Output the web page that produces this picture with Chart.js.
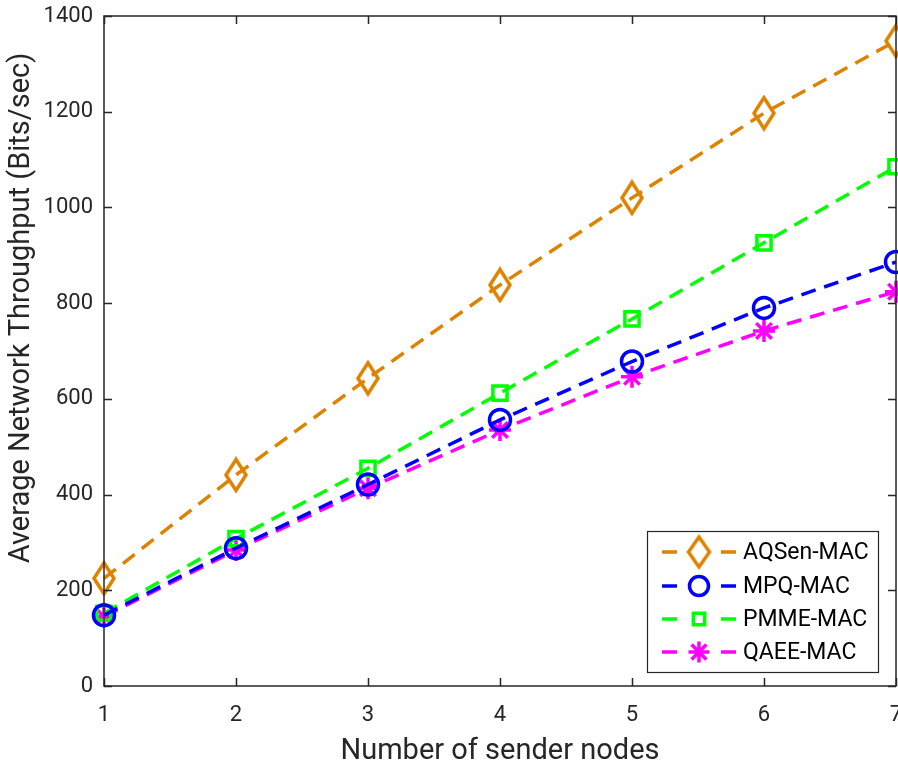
<!DOCTYPE html>
<html>
<head>
<meta charset="utf-8">
<script src="https://cdn.jsdelivr.net/npm/chart.js@4.4.1/dist/chart.umd.min.js"></script>
<style>
  html, body { margin: 0; padding: 0; background: #fff; }
  #wrap { width: 898px; height: 771px; }
</style>
</head>
<body>
<div id="wrap"><canvas id="thrChart" width="898" height="771"></canvas></div>
<script>
// data
const senderNodes = [1, 2, 3, 4, 5, 6, 7];
const aqsenMac = [225, 441, 643, 838, 1020, 1197, 1348];
const mpqMac = [148, 288, 421, 556, 678, 790, 886];
const pmmeMac = [152, 308, 455, 612, 767, 926, 1085];
const qaeeMac = [145, 284, 413, 535, 646, 742, 824];
const yTicks = [0, 200, 400, 600, 800, 1000, 1200, 1400];
const seriesNames = ['AQSen-MAC', 'MPQ-MAC', 'PMME-MAC', 'QAEE-MAC'];
const yTitle = 'Average Network Throughput (Bits/sec)';

const FONT = 'Roboto, "Liberation Sans", Arial, sans-serif';
const AXIS_COLOR = '#262626';
const ORANGE = '#DE8200';

// MATLAB-like tall diamond marker
function makeDiamond(color, w, h) {
    const c = document.createElement('canvas');
    c.width = w + 6;
    c.height = h + 6;
    const g = c.getContext('2d');
    g.strokeStyle = color;
    g.lineWidth = 3.5;
    const cx = c.width / 2, cy = c.height / 2;
    g.beginPath();
    g.moveTo(cx, cy - h / 2);
    g.lineTo(cx + w / 2, cy);
    g.lineTo(cx, cy + h / 2);
    g.lineTo(cx - w / 2, cy);
    g.closePath();
    g.stroke();
    return c;
}
const diamondBig = makeDiamond(ORANGE, 20, 31);
const diamondSmall = makeDiamond(ORANGE, 21, 30);

function toPoints(vals) {
    return vals.map((v, i) => ({ x: senderNodes[i], y: v }));
}

function series(label, vals, color, style, radius) {
    return {
        label: label,
        data: toPoints(vals),
        borderColor: color,
        backgroundColor: 'rgba(0,0,0,0)',
        borderWidth: 3.5,
        borderDash: [15, 9],
        pointStyle: style,
        pointRadius: radius,
        pointBorderWidth: 3.5,
        pointBorderColor: color,
        pointBackgroundColor: 'rgba(0,0,0,0)',
        tension: 0,
        clip: false
    };
}

// no extra padding from the scales, the plot box is fixed
function noPad(s) {
    s.paddingLeft = 0;
    s.paddingRight = 0;
    s.paddingTop = 0;
    s.paddingBottom = 0;
}

// frame + inward ticks like MATLAB axes, y title and the legend box
const framePlugin = {
    id: 'frame',
    afterDatasetsDraw(chart) {
        const { ctx, chartArea: a, scales } = chart;
        ctx.save();
        ctx.strokeStyle = AXIS_COLOR;
        ctx.lineWidth = 1.5;
        ctx.beginPath();
        yTicks.forEach(t => {
            const py = Math.round(scales.y.getPixelForValue(t)) + 0.5;
            ctx.moveTo(a.left, py); ctx.lineTo(a.left + 8, py);
            ctx.moveTo(a.right, py); ctx.lineTo(a.right - 8, py);
        });
        senderNodes.forEach(t => {
            const px = Math.round(scales.x.getPixelForValue(t)) + 0.5;
            ctx.moveTo(px, a.bottom); ctx.lineTo(px, a.bottom - 8);
            ctx.moveTo(px, a.top); ctx.lineTo(px, a.top + 8);
        });
        ctx.stroke();
        ctx.strokeRect(a.left, a.top, a.right - a.left, a.bottom - a.top);
        ctx.restore();
    },
    afterDraw(chart) {
        const ctx = chart.ctx;
        ctx.save();
        // y axis title
        ctx.translate(22, 308);
        ctx.rotate(-Math.PI / 2);
        ctx.fillStyle = AXIS_COLOR;
        ctx.font = '29px ' + FONT;
        ctx.textAlign = 'center';
        ctx.textBaseline = 'middle';
        ctx.fillText(yTitle, 0, 0);
        ctx.restore();

        const bx = 647, by = 531, bw = 231, bh = 141;
        ctx.save();
        ctx.fillStyle = '#fff';
        ctx.fillRect(bx, by, bw, bh);
        ctx.strokeStyle = AXIS_COLOR;
        ctx.lineWidth = 1.2;
        ctx.strokeRect(bx + 0.5, by + 0.5, bw, bh);
        const rows = [552, 586, 619, 652];
        chart.data.datasets.forEach((ds, i) => {
            const y = rows[i];
            ctx.strokeStyle = ds.borderColor;
            ctx.lineWidth = 3.5;
            ctx.beginPath();
            ctx.moveTo(662, y); ctx.lineTo(677, y);
            ctx.moveTo(721, y); ctx.lineTo(736, y);
            ctx.stroke();
            ctx.fillStyle = 'rgba(0,0,0,0)';
            const style = i === 0 ? diamondSmall : ds.pointStyle;
            const r = [10, 9.5, 8, 10.5][i];
            Chart.helpers.drawPoint(ctx, { pointStyle: style, radius: r, rotation: 0, borderWidth: 3.5 }, 699, y);
            ctx.fillStyle = '#000';
            ctx.font = '23px ' + FONT;
            ctx.textBaseline = 'middle';
            ctx.textAlign = 'left';
            ctx.fillText(seriesNames[i], 743, y + 1);
        });
        ctx.restore();
    }
};

const ctx = document.getElementById('thrChart').getContext('2d');
const thrChart = new Chart(ctx, {
    type: 'line',
    data: {
        datasets: [
            series(seriesNames[0], aqsenMac, ORANGE, diamondBig, 11),
            series(seriesNames[1], mpqMac, '#0000FF', 'circle', 10.5),
            series(seriesNames[2], pmmeMac, '#00FF00', 'rect', 10),
            series(seriesNames[3], qaeeMac, '#FF00FF', 'star', 11)
        ]
    },
    options: {
        responsive: false,
        animation: false,
        layout: { autoPadding: false, padding: { top: 16, right: 2, left: 0, bottom: 0 } },
        plugins: {
            legend: { display: false },
            tooltip: { enabled: false }
        },
        scales: {
            x: {
                type: 'linear',
                min: 1,
                max: 7,
                afterFit: s => { s.height = 85; noPad(s); },
                afterBuildTicks: s => { s.ticks = senderNodes.map(v => ({ value: v })); },
                grid: { display: false, drawTicks: false },
                border: { display: false },
                ticks: {
                    color: AXIS_COLOR,
                    font: { family: FONT, size: 22 },
                    padding: 16,
                    maxRotation: 0,
                    callback: v => String(v)
                },
                title: {
                    display: true,
                    text: 'Number of sender nodes',
                    color: AXIS_COLOR,
                    font: { family: FONT, size: 29 },
                    padding: { top: 0, bottom: 2 }
                }
            },
            y: {
                type: 'linear',
                min: 0,
                max: 1400,
                afterFit: s => { s.width = 104; noPad(s); },
                afterBuildTicks: s => { s.ticks = yTicks.map(v => ({ value: v })); },
                grid: { display: false, drawTicks: false },
                border: { display: false },
                ticks: {
                    color: AXIS_COLOR,
                    font: { family: FONT, size: 22 },
                    padding: 11,
                    callback: v => String(v)
                }
            }
        }
    },
    plugins: [framePlugin]
});
</script>
</body>
</html>
